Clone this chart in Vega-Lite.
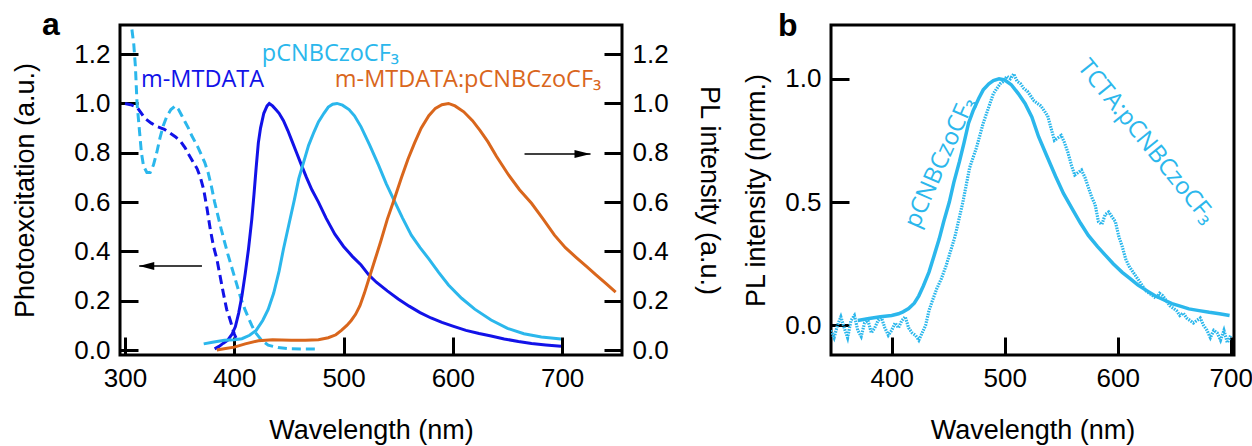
{
  "$schema": "https://vega.github.io/schema/vega-lite/v6.json",
  "background": "white",
  "padding": {"left": 10, "top": 7, "right": 0, "bottom": 0},
  "spacing": 17,
  "config": {
    "view": {"stroke": "black", "strokeWidth": 3},
    "axis": {
      "labelFont": "Liberation Sans", "titleFont": "Liberation Sans",
      "labelFontSize": 26, "titleFontSize": 27, "titleFontWeight": "normal",
      "labelColor": "black", "titleColor": "black", "tickColor": "black",
      "tickWidth": 3, "tickSize": -18, "labelPadding": 28,
      "domain": false, "grid": false, "labelFlush": false, "labelOverlap": false
    }
  },
  "datasets": {
    "exc": [
      {"s": "m-MTDATA", "wl": 300, "v": 1.0},
      {"s": "m-MTDATA", "wl": 305, "v": 0.995},
      {"s": "m-MTDATA", "wl": 311, "v": 0.985},
      {"s": "m-MTDATA", "wl": 315, "v": 0.96},
      {"s": "m-MTDATA", "wl": 318, "v": 0.94},
      {"s": "m-MTDATA", "wl": 324, "v": 0.92},
      {"s": "m-MTDATA", "wl": 330, "v": 0.905},
      {"s": "m-MTDATA", "wl": 336, "v": 0.895},
      {"s": "m-MTDATA", "wl": 341, "v": 0.88},
      {"s": "m-MTDATA", "wl": 346, "v": 0.865},
      {"s": "m-MTDATA", "wl": 351, "v": 0.845},
      {"s": "m-MTDATA", "wl": 355, "v": 0.82},
      {"s": "m-MTDATA", "wl": 358, "v": 0.795},
      {"s": "m-MTDATA", "wl": 362, "v": 0.765},
      {"s": "m-MTDATA", "wl": 366, "v": 0.735},
      {"s": "m-MTDATA", "wl": 369, "v": 0.7},
      {"s": "m-MTDATA", "wl": 372, "v": 0.65},
      {"s": "m-MTDATA", "wl": 375, "v": 0.575},
      {"s": "m-MTDATA", "wl": 378, "v": 0.49},
      {"s": "m-MTDATA", "wl": 381, "v": 0.42},
      {"s": "m-MTDATA", "wl": 384, "v": 0.37},
      {"s": "m-MTDATA", "wl": 387, "v": 0.3},
      {"s": "m-MTDATA", "wl": 390, "v": 0.23},
      {"s": "m-MTDATA", "wl": 393, "v": 0.165},
      {"s": "m-MTDATA", "wl": 396, "v": 0.125},
      {"s": "m-MTDATA", "wl": 398, "v": 0.095},
      {"s": "m-MTDATA", "wl": 400, "v": 0.065},
      {"s": "m-MTDATA", "wl": 402, "v": 0.045},
      {"s": "pCNBCzoCF3", "wl": 306.3, "v": 1.3},
      {"s": "pCNBCzoCF3", "wl": 308, "v": 1.24},
      {"s": "pCNBCzoCF3", "wl": 309.5, "v": 1.15},
      {"s": "pCNBCzoCF3", "wl": 311, "v": 1.0},
      {"s": "pCNBCzoCF3", "wl": 313, "v": 0.9},
      {"s": "pCNBCzoCF3", "wl": 315, "v": 0.8},
      {"s": "pCNBCzoCF3", "wl": 317, "v": 0.745},
      {"s": "pCNBCzoCF3", "wl": 320, "v": 0.72},
      {"s": "pCNBCzoCF3", "wl": 323, "v": 0.72},
      {"s": "pCNBCzoCF3", "wl": 326, "v": 0.75},
      {"s": "pCNBCzoCF3", "wl": 329, "v": 0.8},
      {"s": "pCNBCzoCF3", "wl": 332, "v": 0.86},
      {"s": "pCNBCzoCF3", "wl": 335, "v": 0.91},
      {"s": "pCNBCzoCF3", "wl": 338, "v": 0.945},
      {"s": "pCNBCzoCF3", "wl": 342, "v": 0.975},
      {"s": "pCNBCzoCF3", "wl": 346, "v": 0.99},
      {"s": "pCNBCzoCF3", "wl": 349, "v": 0.975},
      {"s": "pCNBCzoCF3", "wl": 352, "v": 0.95},
      {"s": "pCNBCzoCF3", "wl": 355, "v": 0.925},
      {"s": "pCNBCzoCF3", "wl": 358, "v": 0.9},
      {"s": "pCNBCzoCF3", "wl": 361, "v": 0.87},
      {"s": "pCNBCzoCF3", "wl": 364, "v": 0.845},
      {"s": "pCNBCzoCF3", "wl": 367, "v": 0.82},
      {"s": "pCNBCzoCF3", "wl": 370, "v": 0.79},
      {"s": "pCNBCzoCF3", "wl": 373, "v": 0.76},
      {"s": "pCNBCzoCF3", "wl": 376, "v": 0.72},
      {"s": "pCNBCzoCF3", "wl": 379, "v": 0.665},
      {"s": "pCNBCzoCF3", "wl": 382, "v": 0.6},
      {"s": "pCNBCzoCF3", "wl": 385, "v": 0.545},
      {"s": "pCNBCzoCF3", "wl": 388, "v": 0.49},
      {"s": "pCNBCzoCF3", "wl": 391, "v": 0.44},
      {"s": "pCNBCzoCF3", "wl": 394, "v": 0.39},
      {"s": "pCNBCzoCF3", "wl": 397, "v": 0.345},
      {"s": "pCNBCzoCF3", "wl": 400, "v": 0.3},
      {"s": "pCNBCzoCF3", "wl": 403, "v": 0.255},
      {"s": "pCNBCzoCF3", "wl": 406, "v": 0.21},
      {"s": "pCNBCzoCF3", "wl": 409.6, "v": 0.166},
      {"s": "pCNBCzoCF3", "wl": 413, "v": 0.13},
      {"s": "pCNBCzoCF3", "wl": 416, "v": 0.1},
      {"s": "pCNBCzoCF3", "wl": 419, "v": 0.073},
      {"s": "pCNBCzoCF3", "wl": 425, "v": 0.04},
      {"s": "pCNBCzoCF3", "wl": 431, "v": 0.02},
      {"s": "pCNBCzoCF3", "wl": 440, "v": 0.01},
      {"s": "pCNBCzoCF3", "wl": 452, "v": 0.005},
      {"s": "pCNBCzoCF3", "wl": 476, "v": 0.004}
    ],
    "pla": [
      {"s": "m-MTDATA", "wl": 382, "v": 0.005},
      {"s": "m-MTDATA", "wl": 386, "v": 0.015},
      {"s": "m-MTDATA", "wl": 390, "v": 0.028},
      {"s": "m-MTDATA", "wl": 394, "v": 0.04},
      {"s": "m-MTDATA", "wl": 398, "v": 0.065},
      {"s": "m-MTDATA", "wl": 401, "v": 0.095},
      {"s": "m-MTDATA", "wl": 404, "v": 0.15},
      {"s": "m-MTDATA", "wl": 407, "v": 0.22},
      {"s": "m-MTDATA", "wl": 410, "v": 0.31},
      {"s": "m-MTDATA", "wl": 413, "v": 0.41},
      {"s": "m-MTDATA", "wl": 416, "v": 0.53},
      {"s": "m-MTDATA", "wl": 418, "v": 0.63},
      {"s": "m-MTDATA", "wl": 420, "v": 0.74},
      {"s": "m-MTDATA", "wl": 422, "v": 0.84},
      {"s": "m-MTDATA", "wl": 424, "v": 0.9},
      {"s": "m-MTDATA", "wl": 427, "v": 0.96},
      {"s": "m-MTDATA", "wl": 430, "v": 0.99},
      {"s": "m-MTDATA", "wl": 432, "v": 1.0},
      {"s": "m-MTDATA", "wl": 435, "v": 0.99},
      {"s": "m-MTDATA", "wl": 438, "v": 0.975},
      {"s": "m-MTDATA", "wl": 441, "v": 0.96},
      {"s": "m-MTDATA", "wl": 445, "v": 0.93},
      {"s": "m-MTDATA", "wl": 449, "v": 0.89},
      {"s": "m-MTDATA", "wl": 453, "v": 0.845},
      {"s": "m-MTDATA", "wl": 457, "v": 0.8},
      {"s": "m-MTDATA", "wl": 461, "v": 0.755},
      {"s": "m-MTDATA", "wl": 466, "v": 0.7},
      {"s": "m-MTDATA", "wl": 471, "v": 0.65},
      {"s": "m-MTDATA", "wl": 477, "v": 0.6},
      {"s": "m-MTDATA", "wl": 484, "v": 0.535},
      {"s": "m-MTDATA", "wl": 492, "v": 0.47},
      {"s": "m-MTDATA", "wl": 500, "v": 0.42},
      {"s": "m-MTDATA", "wl": 508, "v": 0.38},
      {"s": "m-MTDATA", "wl": 516, "v": 0.345},
      {"s": "m-MTDATA", "wl": 523, "v": 0.305},
      {"s": "m-MTDATA", "wl": 530, "v": 0.275},
      {"s": "m-MTDATA", "wl": 540, "v": 0.24},
      {"s": "m-MTDATA", "wl": 550, "v": 0.207},
      {"s": "m-MTDATA", "wl": 560, "v": 0.178},
      {"s": "m-MTDATA", "wl": 570, "v": 0.152},
      {"s": "m-MTDATA", "wl": 580, "v": 0.13},
      {"s": "m-MTDATA", "wl": 590, "v": 0.112},
      {"s": "m-MTDATA", "wl": 600, "v": 0.097},
      {"s": "m-MTDATA", "wl": 612, "v": 0.08},
      {"s": "m-MTDATA", "wl": 624, "v": 0.067},
      {"s": "m-MTDATA", "wl": 635, "v": 0.057},
      {"s": "m-MTDATA", "wl": 647, "v": 0.045},
      {"s": "m-MTDATA", "wl": 660, "v": 0.035},
      {"s": "m-MTDATA", "wl": 672, "v": 0.027},
      {"s": "m-MTDATA", "wl": 685, "v": 0.021},
      {"s": "m-MTDATA", "wl": 699, "v": 0.015},
      {"s": "pCNBCzoCF3", "wl": 372, "v": 0.025},
      {"s": "pCNBCzoCF3", "wl": 380, "v": 0.032},
      {"s": "pCNBCzoCF3", "wl": 391, "v": 0.04},
      {"s": "pCNBCzoCF3", "wl": 400, "v": 0.042},
      {"s": "pCNBCzoCF3", "wl": 407, "v": 0.046},
      {"s": "pCNBCzoCF3", "wl": 414, "v": 0.06},
      {"s": "pCNBCzoCF3", "wl": 420, "v": 0.08},
      {"s": "pCNBCzoCF3", "wl": 426, "v": 0.12},
      {"s": "pCNBCzoCF3", "wl": 431, "v": 0.165},
      {"s": "pCNBCzoCF3", "wl": 436, "v": 0.23},
      {"s": "pCNBCzoCF3", "wl": 441, "v": 0.32},
      {"s": "pCNBCzoCF3", "wl": 445, "v": 0.41},
      {"s": "pCNBCzoCF3", "wl": 450, "v": 0.51},
      {"s": "pCNBCzoCF3", "wl": 455, "v": 0.61},
      {"s": "pCNBCzoCF3", "wl": 459, "v": 0.695},
      {"s": "pCNBCzoCF3", "wl": 464, "v": 0.77},
      {"s": "pCNBCzoCF3", "wl": 468, "v": 0.83},
      {"s": "pCNBCzoCF3", "wl": 473, "v": 0.885},
      {"s": "pCNBCzoCF3", "wl": 477, "v": 0.925},
      {"s": "pCNBCzoCF3", "wl": 482, "v": 0.96},
      {"s": "pCNBCzoCF3", "wl": 486, "v": 0.985},
      {"s": "pCNBCzoCF3", "wl": 490, "v": 0.997},
      {"s": "pCNBCzoCF3", "wl": 494, "v": 1.0},
      {"s": "pCNBCzoCF3", "wl": 499, "v": 0.993},
      {"s": "pCNBCzoCF3", "wl": 505, "v": 0.975},
      {"s": "pCNBCzoCF3", "wl": 510, "v": 0.95},
      {"s": "pCNBCzoCF3", "wl": 516, "v": 0.905},
      {"s": "pCNBCzoCF3", "wl": 524, "v": 0.83},
      {"s": "pCNBCzoCF3", "wl": 532, "v": 0.75},
      {"s": "pCNBCzoCF3", "wl": 539, "v": 0.675},
      {"s": "pCNBCzoCF3", "wl": 547, "v": 0.6},
      {"s": "pCNBCzoCF3", "wl": 554, "v": 0.535},
      {"s": "pCNBCzoCF3", "wl": 562, "v": 0.466},
      {"s": "pCNBCzoCF3", "wl": 570, "v": 0.415},
      {"s": "pCNBCzoCF3", "wl": 578, "v": 0.37},
      {"s": "pCNBCzoCF3", "wl": 587, "v": 0.315},
      {"s": "pCNBCzoCF3", "wl": 596, "v": 0.264},
      {"s": "pCNBCzoCF3", "wl": 608, "v": 0.21},
      {"s": "pCNBCzoCF3", "wl": 620, "v": 0.166},
      {"s": "pCNBCzoCF3", "wl": 635, "v": 0.122},
      {"s": "pCNBCzoCF3", "wl": 650, "v": 0.088},
      {"s": "pCNBCzoCF3", "wl": 665, "v": 0.066},
      {"s": "pCNBCzoCF3", "wl": 681, "v": 0.053},
      {"s": "pCNBCzoCF3", "wl": 699, "v": 0.045},
      {"s": "m-MTDATA:pCNBCzoCF3", "wl": 384, "v": 0.0},
      {"s": "m-MTDATA:pCNBCzoCF3", "wl": 392, "v": 0.006},
      {"s": "m-MTDATA:pCNBCzoCF3", "wl": 400, "v": 0.012},
      {"s": "m-MTDATA:pCNBCzoCF3", "wl": 410, "v": 0.025},
      {"s": "m-MTDATA:pCNBCzoCF3", "wl": 422, "v": 0.038},
      {"s": "m-MTDATA:pCNBCzoCF3", "wl": 435, "v": 0.042},
      {"s": "m-MTDATA:pCNBCzoCF3", "wl": 452, "v": 0.04},
      {"s": "m-MTDATA:pCNBCzoCF3", "wl": 465, "v": 0.04},
      {"s": "m-MTDATA:pCNBCzoCF3", "wl": 477, "v": 0.042},
      {"s": "m-MTDATA:pCNBCzoCF3", "wl": 486, "v": 0.05},
      {"s": "m-MTDATA:pCNBCzoCF3", "wl": 493, "v": 0.062},
      {"s": "m-MTDATA:pCNBCzoCF3", "wl": 498, "v": 0.08},
      {"s": "m-MTDATA:pCNBCzoCF3", "wl": 503, "v": 0.1},
      {"s": "m-MTDATA:pCNBCzoCF3", "wl": 507, "v": 0.12},
      {"s": "m-MTDATA:pCNBCzoCF3", "wl": 511, "v": 0.145},
      {"s": "m-MTDATA:pCNBCzoCF3", "wl": 515, "v": 0.18},
      {"s": "m-MTDATA:pCNBCzoCF3", "wl": 519, "v": 0.23},
      {"s": "m-MTDATA:pCNBCzoCF3", "wl": 524, "v": 0.3},
      {"s": "m-MTDATA:pCNBCzoCF3", "wl": 529, "v": 0.37},
      {"s": "m-MTDATA:pCNBCzoCF3", "wl": 534, "v": 0.44},
      {"s": "m-MTDATA:pCNBCzoCF3", "wl": 540, "v": 0.53},
      {"s": "m-MTDATA:pCNBCzoCF3", "wl": 547, "v": 0.62},
      {"s": "m-MTDATA:pCNBCzoCF3", "wl": 553, "v": 0.7},
      {"s": "m-MTDATA:pCNBCzoCF3", "wl": 559, "v": 0.775},
      {"s": "m-MTDATA:pCNBCzoCF3", "wl": 565, "v": 0.84},
      {"s": "m-MTDATA:pCNBCzoCF3", "wl": 571, "v": 0.9},
      {"s": "m-MTDATA:pCNBCzoCF3", "wl": 578, "v": 0.95},
      {"s": "m-MTDATA:pCNBCzoCF3", "wl": 584, "v": 0.98},
      {"s": "m-MTDATA:pCNBCzoCF3", "wl": 590, "v": 0.995},
      {"s": "m-MTDATA:pCNBCzoCF3", "wl": 596, "v": 1.0},
      {"s": "m-MTDATA:pCNBCzoCF3", "wl": 602, "v": 0.99},
      {"s": "m-MTDATA:pCNBCzoCF3", "wl": 610, "v": 0.966},
      {"s": "m-MTDATA:pCNBCzoCF3", "wl": 618, "v": 0.93},
      {"s": "m-MTDATA:pCNBCzoCF3", "wl": 625, "v": 0.89},
      {"s": "m-MTDATA:pCNBCzoCF3", "wl": 632, "v": 0.845},
      {"s": "m-MTDATA:pCNBCzoCF3", "wl": 640, "v": 0.785},
      {"s": "m-MTDATA:pCNBCzoCF3", "wl": 651, "v": 0.71},
      {"s": "m-MTDATA:pCNBCzoCF3", "wl": 661, "v": 0.65},
      {"s": "m-MTDATA:pCNBCzoCF3", "wl": 672, "v": 0.595},
      {"s": "m-MTDATA:pCNBCzoCF3", "wl": 682, "v": 0.535},
      {"s": "m-MTDATA:pCNBCzoCF3", "wl": 693, "v": 0.466},
      {"s": "m-MTDATA:pCNBCzoCF3", "wl": 703, "v": 0.415},
      {"s": "m-MTDATA:pCNBCzoCF3", "wl": 713, "v": 0.375},
      {"s": "m-MTDATA:pCNBCzoCF3", "wl": 722, "v": 0.34},
      {"s": "m-MTDATA:pCNBCzoCF3", "wl": 731, "v": 0.305},
      {"s": "m-MTDATA:pCNBCzoCF3", "wl": 740, "v": 0.27},
      {"s": "m-MTDATA:pCNBCzoCF3", "wl": 749, "v": 0.235}
    ],
    "labA": [
      {"label": "m-MTDATA", "s": "m-MTDATA", "wl": 314.6, "v": 1.067},
      {"label": "pCNBCzoCF₃", "s": "pCNBCzoCF3", "wl": 425.2, "v": 1.171},
      {"label": "m-MTDATA:pCNBCzoCF₃", "s": "m-MTDATA:pCNBCzoCF3", "wl": 492, "v": 1.067}
    ],
    "panelA": [{"label": "a", "wl": 224, "v": 1.278}],
    "panelB": [{"label": "b", "wl": 299.4, "v": 1.173}],
    "arrows": [
      {"dir": "left", "wl": 370.4, "wl2": 313, "v": 0.341},
      {"dir": "right", "wl": 665.6, "wl2": 726, "v": 0.795}
    ],
    "plb": [
      {"s": "pCNBCzoCF3", "wl": 370, "v": 0.02},
      {"s": "pCNBCzoCF3", "wl": 380, "v": 0.028},
      {"s": "pCNBCzoCF3", "wl": 390, "v": 0.035},
      {"s": "pCNBCzoCF3", "wl": 400, "v": 0.04},
      {"s": "pCNBCzoCF3", "wl": 406, "v": 0.047},
      {"s": "pCNBCzoCF3", "wl": 410, "v": 0.055},
      {"s": "pCNBCzoCF3", "wl": 415, "v": 0.068},
      {"s": "pCNBCzoCF3", "wl": 420, "v": 0.09},
      {"s": "pCNBCzoCF3", "wl": 424, "v": 0.12},
      {"s": "pCNBCzoCF3", "wl": 428, "v": 0.16},
      {"s": "pCNBCzoCF3", "wl": 433, "v": 0.216},
      {"s": "pCNBCzoCF3", "wl": 438, "v": 0.29},
      {"s": "pCNBCzoCF3", "wl": 442, "v": 0.35},
      {"s": "pCNBCzoCF3", "wl": 446, "v": 0.42},
      {"s": "pCNBCzoCF3", "wl": 451, "v": 0.5},
      {"s": "pCNBCzoCF3", "wl": 455, "v": 0.58},
      {"s": "pCNBCzoCF3", "wl": 460, "v": 0.665},
      {"s": "pCNBCzoCF3", "wl": 464, "v": 0.74},
      {"s": "pCNBCzoCF3", "wl": 468, "v": 0.82},
      {"s": "pCNBCzoCF3", "wl": 472, "v": 0.87},
      {"s": "pCNBCzoCF3", "wl": 477, "v": 0.92},
      {"s": "pCNBCzoCF3", "wl": 481, "v": 0.955},
      {"s": "pCNBCzoCF3", "wl": 486, "v": 0.98},
      {"s": "pCNBCzoCF3", "wl": 490, "v": 0.993},
      {"s": "pCNBCzoCF3", "wl": 495, "v": 1.0},
      {"s": "pCNBCzoCF3", "wl": 500, "v": 0.995},
      {"s": "pCNBCzoCF3", "wl": 506, "v": 0.975},
      {"s": "pCNBCzoCF3", "wl": 512, "v": 0.94},
      {"s": "pCNBCzoCF3", "wl": 518, "v": 0.9},
      {"s": "pCNBCzoCF3", "wl": 524, "v": 0.845},
      {"s": "pCNBCzoCF3", "wl": 530, "v": 0.765},
      {"s": "pCNBCzoCF3", "wl": 537, "v": 0.69},
      {"s": "pCNBCzoCF3", "wl": 545, "v": 0.605},
      {"s": "pCNBCzoCF3", "wl": 552, "v": 0.535},
      {"s": "pCNBCzoCF3", "wl": 560, "v": 0.47},
      {"s": "pCNBCzoCF3", "wl": 567, "v": 0.415},
      {"s": "pCNBCzoCF3", "wl": 574, "v": 0.365},
      {"s": "pCNBCzoCF3", "wl": 582, "v": 0.32},
      {"s": "pCNBCzoCF3", "wl": 589, "v": 0.285},
      {"s": "pCNBCzoCF3", "wl": 596, "v": 0.25},
      {"s": "pCNBCzoCF3", "wl": 604, "v": 0.215},
      {"s": "pCNBCzoCF3", "wl": 611, "v": 0.19},
      {"s": "pCNBCzoCF3", "wl": 618, "v": 0.163},
      {"s": "pCNBCzoCF3", "wl": 626, "v": 0.14},
      {"s": "pCNBCzoCF3", "wl": 633, "v": 0.12},
      {"s": "pCNBCzoCF3", "wl": 641, "v": 0.103},
      {"s": "pCNBCzoCF3", "wl": 648, "v": 0.088},
      {"s": "pCNBCzoCF3", "wl": 656, "v": 0.077},
      {"s": "pCNBCzoCF3", "wl": 663, "v": 0.067},
      {"s": "pCNBCzoCF3", "wl": 672, "v": 0.06},
      {"s": "pCNBCzoCF3", "wl": 681, "v": 0.053},
      {"s": "pCNBCzoCF3", "wl": 690, "v": 0.047},
      {"s": "pCNBCzoCF3", "wl": 699, "v": 0.04},
      {"s": "TCTA", "wl": 346, "v": -0.02},
      {"s": "TCTA", "wl": 349, "v": -0.05},
      {"s": "TCTA", "wl": 352, "v": 0.0},
      {"s": "TCTA", "wl": 355, "v": 0.035},
      {"s": "TCTA", "wl": 358, "v": -0.01},
      {"s": "TCTA", "wl": 361, "v": -0.05},
      {"s": "TCTA", "wl": 364, "v": 0.02},
      {"s": "TCTA", "wl": 367, "v": 0.04},
      {"s": "TCTA", "wl": 370, "v": -0.02},
      {"s": "TCTA", "wl": 373, "v": -0.045},
      {"s": "TCTA", "wl": 376, "v": 0.01},
      {"s": "TCTA", "wl": 379, "v": 0.02},
      {"s": "TCTA", "wl": 382, "v": -0.03},
      {"s": "TCTA", "wl": 385, "v": -0.01},
      {"s": "TCTA", "wl": 388, "v": 0.02},
      {"s": "TCTA", "wl": 391, "v": 0.03},
      {"s": "TCTA", "wl": 394, "v": -0.01},
      {"s": "TCTA", "wl": 397, "v": -0.04},
      {"s": "TCTA", "wl": 400, "v": -0.02},
      {"s": "TCTA", "wl": 403, "v": 0.01},
      {"s": "TCTA", "wl": 406, "v": -0.01},
      {"s": "TCTA", "wl": 409, "v": 0.02},
      {"s": "TCTA", "wl": 412, "v": 0.035},
      {"s": "TCTA", "wl": 415, "v": -0.01},
      {"s": "TCTA", "wl": 418, "v": -0.03},
      {"s": "TCTA", "wl": 421, "v": -0.04},
      {"s": "TCTA", "wl": 424, "v": -0.06},
      {"s": "TCTA", "wl": 427, "v": -0.03},
      {"s": "TCTA", "wl": 430, "v": 0.0},
      {"s": "TCTA", "wl": 433, "v": 0.06},
      {"s": "TCTA", "wl": 436, "v": 0.1},
      {"s": "TCTA", "wl": 440, "v": 0.15},
      {"s": "TCTA", "wl": 444, "v": 0.19},
      {"s": "TCTA", "wl": 448, "v": 0.24},
      {"s": "TCTA", "wl": 452, "v": 0.3},
      {"s": "TCTA", "wl": 456, "v": 0.36},
      {"s": "TCTA", "wl": 460, "v": 0.44},
      {"s": "TCTA", "wl": 463, "v": 0.5},
      {"s": "TCTA", "wl": 466, "v": 0.57},
      {"s": "TCTA", "wl": 469, "v": 0.64},
      {"s": "TCTA", "wl": 472, "v": 0.68},
      {"s": "TCTA", "wl": 475, "v": 0.72},
      {"s": "TCTA", "wl": 478, "v": 0.77},
      {"s": "TCTA", "wl": 481, "v": 0.82},
      {"s": "TCTA", "wl": 484, "v": 0.86},
      {"s": "TCTA", "wl": 487, "v": 0.9},
      {"s": "TCTA", "wl": 490, "v": 0.94},
      {"s": "TCTA", "wl": 493, "v": 0.96},
      {"s": "TCTA", "wl": 496, "v": 0.98},
      {"s": "TCTA", "wl": 499, "v": 0.99},
      {"s": "TCTA", "wl": 502, "v": 1.01},
      {"s": "TCTA", "wl": 505, "v": 1.0},
      {"s": "TCTA", "wl": 508, "v": 1.02},
      {"s": "TCTA", "wl": 511, "v": 0.99},
      {"s": "TCTA", "wl": 514, "v": 0.98},
      {"s": "TCTA", "wl": 517, "v": 0.96},
      {"s": "TCTA", "wl": 520, "v": 0.95},
      {"s": "TCTA", "wl": 523, "v": 0.93},
      {"s": "TCTA", "wl": 526, "v": 0.91},
      {"s": "TCTA", "wl": 529, "v": 0.9},
      {"s": "TCTA", "wl": 532, "v": 0.89},
      {"s": "TCTA", "wl": 535, "v": 0.87},
      {"s": "TCTA", "wl": 538, "v": 0.85},
      {"s": "TCTA", "wl": 541, "v": 0.8},
      {"s": "TCTA", "wl": 544, "v": 0.75},
      {"s": "TCTA", "wl": 547, "v": 0.76},
      {"s": "TCTA", "wl": 550, "v": 0.77},
      {"s": "TCTA", "wl": 553, "v": 0.74},
      {"s": "TCTA", "wl": 556, "v": 0.7},
      {"s": "TCTA", "wl": 559, "v": 0.65},
      {"s": "TCTA", "wl": 562, "v": 0.61},
      {"s": "TCTA", "wl": 565, "v": 0.62},
      {"s": "TCTA", "wl": 568, "v": 0.63},
      {"s": "TCTA", "wl": 571, "v": 0.6},
      {"s": "TCTA", "wl": 574, "v": 0.56},
      {"s": "TCTA", "wl": 577, "v": 0.52},
      {"s": "TCTA", "wl": 580, "v": 0.49},
      {"s": "TCTA", "wl": 583, "v": 0.42},
      {"s": "TCTA", "wl": 586, "v": 0.41},
      {"s": "TCTA", "wl": 589, "v": 0.45},
      {"s": "TCTA", "wl": 592, "v": 0.46},
      {"s": "TCTA", "wl": 595, "v": 0.44},
      {"s": "TCTA", "wl": 598, "v": 0.42},
      {"s": "TCTA", "wl": 601, "v": 0.36},
      {"s": "TCTA", "wl": 604, "v": 0.32},
      {"s": "TCTA", "wl": 607, "v": 0.27},
      {"s": "TCTA", "wl": 610, "v": 0.24},
      {"s": "TCTA", "wl": 613, "v": 0.22},
      {"s": "TCTA", "wl": 616, "v": 0.2},
      {"s": "TCTA", "wl": 619, "v": 0.18},
      {"s": "TCTA", "wl": 622, "v": 0.16},
      {"s": "TCTA", "wl": 625, "v": 0.14},
      {"s": "TCTA", "wl": 628, "v": 0.13},
      {"s": "TCTA", "wl": 631, "v": 0.12},
      {"s": "TCTA", "wl": 634, "v": 0.11},
      {"s": "TCTA", "wl": 637, "v": 0.13},
      {"s": "TCTA", "wl": 640, "v": 0.12},
      {"s": "TCTA", "wl": 643, "v": 0.1},
      {"s": "TCTA", "wl": 646, "v": 0.08},
      {"s": "TCTA", "wl": 649, "v": 0.07},
      {"s": "TCTA", "wl": 652, "v": 0.06},
      {"s": "TCTA", "wl": 655, "v": 0.04},
      {"s": "TCTA", "wl": 658, "v": 0.05},
      {"s": "TCTA", "wl": 661, "v": 0.03},
      {"s": "TCTA", "wl": 664, "v": 0.02},
      {"s": "TCTA", "wl": 667, "v": 0.01},
      {"s": "TCTA", "wl": 670, "v": 0.02},
      {"s": "TCTA", "wl": 673, "v": 0.03},
      {"s": "TCTA", "wl": 676, "v": 0.0},
      {"s": "TCTA", "wl": 679, "v": -0.02},
      {"s": "TCTA", "wl": 682, "v": -0.05},
      {"s": "TCTA", "wl": 685, "v": -0.02},
      {"s": "TCTA", "wl": 688, "v": -0.03},
      {"s": "TCTA", "wl": 691, "v": -0.06},
      {"s": "TCTA", "wl": 694, "v": -0.02},
      {"s": "TCTA", "wl": 697, "v": -0.07},
      {"s": "TCTA", "wl": 700, "v": -0.04}
    ],
    "labB": [
      {"label": "pCNBCzoCF₃", "wl": 443, "v": 0.66},
      {"label": "TCTA:pCNBCzoCF₃", "wl": 625, "v": 0.745}
    ]
  },
  "hconcat": [
    {
      "width": 502,
      "height": 330,
      "encoding": {
        "x": {"field": "wl", "type": "quantitative",
              "scale": {"domain": [295.4, 754.8], "nice": false, "zero": false},
              "axis": {"values": [300, 400, 500, 600, 700], "format": "d", "title": "Wavelength (nm)", "titlePadding": 26}}
      },
      "layer": [
        {
          "data": {"name": "exc"},
          "mark": {"type": "line", "strokeDash": [9, 5], "strokeWidth": 3, "clip": true},
          "encoding": {
            "y": {"field": "v", "type": "quantitative",
                  "scale": {"domain": [-0.02, 1.318], "nice": false, "zero": false},
                  "axis": {"orient": "left", "values": [0, 0.2, 0.4, 0.6, 0.8, 1.0, 1.2], "format": ".1f", "title": "Photoexcitation (a.u.)", "titlePadding": 34}},
            "color": {"field": "s", "type": "nominal", "legend": null,
                      "scale": {"domain": ["m-MTDATA", "pCNBCzoCF3", "m-MTDATA:pCNBCzoCF3"], "range": ["#1212e8", "#2bb7ec", "#d9661c"]}}
          }
        },
        {
          "data": {"name": "pla"},
          "mark": {"type": "line", "strokeWidth": 3, "clip": true},
          "encoding": {
            "y": {"field": "v", "type": "quantitative",
                  "scale": {"domain": [-0.02, 1.318], "nice": false, "zero": false},
                  "axis": {"orient": "right", "values": [0, 0.2, 0.4, 0.6, 0.8, 1.0, 1.2], "format": ".1f", "title": "PL intensity (a.u.)", "titlePadding": 26}},
            "color": {"field": "s", "type": "nominal", "legend": null,
                      "scale": {"domain": ["m-MTDATA", "pCNBCzoCF3", "m-MTDATA:pCNBCzoCF3"], "range": ["#1212e8", "#2bb7ec", "#d9661c"]}}
          }
        },
        {
          "data": {"name": "labA"},
          "mark": {"type": "text", "align": "left", "baseline": "alphabetic", "font": "Open Sans", "fontSize": 23.5},
          "encoding": {
            "y": {"field": "v", "type": "quantitative", "axis": null,
                  "scale": {"domain": [-0.02, 1.318], "nice": false, "zero": false}},
            "text": {"field": "label"},
            "color": {"field": "s", "type": "nominal", "legend": null,
                      "scale": {"domain": ["m-MTDATA", "pCNBCzoCF3", "m-MTDATA:pCNBCzoCF3"], "range": ["#1212e8", "#2bb7ec", "#d9661c"]}}
          }
        },
        {
          "data": {"name": "panelA"},
          "mark": {"type": "text", "align": "left", "baseline": "alphabetic", "font": "Liberation Sans", "fontSize": 32, "fontWeight": "bold", "color": "black"},
          "encoding": {
            "y": {"field": "v", "type": "quantitative", "axis": null,
                  "scale": {"domain": [-0.02, 1.318], "nice": false, "zero": false}},
            "text": {"field": "label"}
          }
        },
        {
          "data": {"name": "arrows"},
          "mark": {"type": "rule", "strokeWidth": 1.5, "color": "black"},
          "encoding": {
            "x2": {"field": "wl2"},
            "y": {"field": "v", "type": "quantitative", "axis": null,
                  "scale": {"domain": [-0.02, 1.318], "nice": false, "zero": false}}
          }
        },
        {
          "data": {"name": "arrows"},
          "transform": [{"filter": "datum.dir === 'left'"}],
          "mark": {"type": "point", "shape": "M 0 0 L 2 -0.53 L 2 0.53 Z", "size": 225, "filled": true, "opacity": 1, "color": "black", "strokeWidth": 0},
          "encoding": {
            "x": {"field": "wl2", "type": "quantitative",
                  "scale": {"domain": [295.4, 754.8], "nice": false, "zero": false},
                  "axis": {"values": [300, 400, 500, 600, 700], "format": "d", "title": "Wavelength (nm)", "titlePadding": 26}},
            "y": {"field": "v", "type": "quantitative", "axis": null,
                  "scale": {"domain": [-0.02, 1.318], "nice": false, "zero": false}}
          }
        },
        {
          "data": {"name": "arrows"},
          "transform": [{"filter": "datum.dir === 'right'"}],
          "mark": {"type": "point", "shape": "M 0 0 L -2 -0.5 L -2 0.5 Z", "size": 256, "filled": true, "opacity": 1, "color": "black", "strokeWidth": 0},
          "encoding": {
            "x": {"field": "wl2", "type": "quantitative",
                  "scale": {"domain": [295.4, 754.8], "nice": false, "zero": false},
                  "axis": {"values": [300, 400, 500, 600, 700], "format": "d", "title": "Wavelength (nm)", "titlePadding": 26}},
            "y": {"field": "v", "type": "quantitative", "axis": null,
                  "scale": {"domain": [-0.02, 1.318], "nice": false, "zero": false}}
          }
        }
      ],
      "resolve": {"scale": {"y": "independent"}}
    },
    {
      "width": 403,
      "height": 330,
      "encoding": {
        "x": {"field": "wl", "type": "quantitative",
              "scale": {"domain": [346.3, 702.9], "nice": false, "zero": false},
              "axis": {"values": [400, 500, 600, 700], "format": "d", "title": "Wavelength (nm)", "titlePadding": 26}},
        "y": {"field": "v", "type": "quantitative",
              "scale": {"domain": [-0.12, 1.218], "nice": false, "zero": false},
              "axis": {"orient": "left", "values": [0, 0.5, 1.0], "format": ".1f", "title": "PL intensity (norm.)", "titlePadding": 14}}
      },
      "layer": [
        {
          "data": {"name": "plb"},
          "transform": [{"filter": "datum.s === 'TCTA'"}],
          "mark": {"type": "line", "strokeWidth": 3.2, "strokeDash": [1.6, 1.1], "color": "#2bb7ec", "clip": true}
        },
        {
          "data": {"name": "plb"},
          "transform": [{"filter": "datum.s === 'pCNBCzoCF3'"}],
          "mark": {"type": "line", "strokeWidth": 3.5, "color": "#2bb7ec", "clip": true}
        },
        {
          "data": {"name": "labB"},
          "transform": [{"filter": "datum.label === 'pCNBCzoCF₃'"}],
          "mark": {"type": "text", "align": "center", "baseline": "middle", "font": "Open Sans", "fontSize": 24, "angle": 294, "color": "#2bb7ec"},
          "encoding": {"text": {"field": "label"}}
        },
        {
          "data": {"name": "labB"},
          "transform": [{"filter": "datum.label === 'TCTA:pCNBCzoCF₃'"}],
          "mark": {"type": "text", "align": "center", "baseline": "middle", "font": "Open Sans", "fontSize": 24, "angle": 51, "color": "#2bb7ec"},
          "encoding": {"text": {"field": "label"}}
        },
        {
          "data": {"name": "panelB"},
          "mark": {"type": "text", "align": "left", "baseline": "alphabetic", "font": "Liberation Sans", "fontSize": 32, "fontWeight": "bold", "color": "black"},
          "encoding": {"text": {"field": "label"}}
        }
      ]
    }
  ]
}
